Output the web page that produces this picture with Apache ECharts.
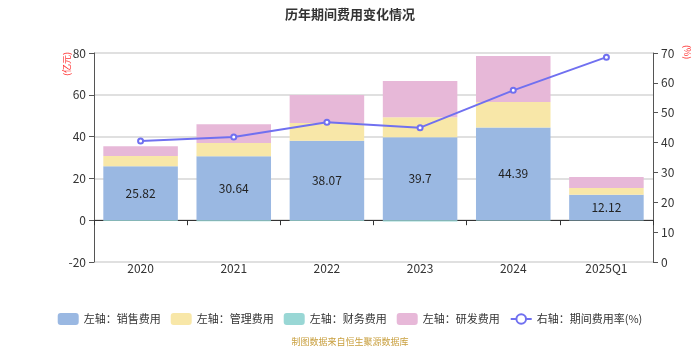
<!DOCTYPE html>
<html><head><meta charset="utf-8">
<script src="https://cdn.jsdelivr.net/npm/echarts@6/dist/echarts.min.js"></script>
<style>html,body{margin:0;padding:0;background:#fff}#c{width:700px;height:350px}</style>
</head><body><div id="c"></div>
<script>
const categories = ['2020','2021','2022','2023','2024','2025Q1'];
const sales = [25.82, 30.64, 38.07, 39.7, 44.39, 12.12];
const admin = [4.9, 6.3, 8.4, 9.5, 12.2, 3.3];
const finance = [-0.4, -0.5, -0.4, -0.6, -0.3, -0.1];
const rnd = [4.7, 9.0, 13.4, 17.4, 22.0, 5.3];
const rate = [40.5, 41.9, 46.8, 45.0, 57.5, 68.6];
const leftTicks = [-20, 0, 20, 40, 60, 80];
const rightTicks = [0, 10, 20, 30, 40, 50, 60, 70];

const chart = echarts.init(document.getElementById('c'));
const font = '"Microsoft YaHei","Noto Sans CJK SC",sans-serif';
chart.setOption({
  animation: false,
  textStyle: {fontFamily: font},
  title: {text: '历年期间费用变化情况', left: 'center', top: 3,
    textStyle: {fontSize: 13, fontWeight: 'bold', color: '#333', fontFamily: font}},
  grid: {left: 94, right: 47, top: 53, bottom: 88},
  legend: {
    bottom: 20, left: 'center', itemWidth: 21, itemHeight: 12, itemGap: 10,
    textStyle: {fontSize: 11, color: '#333'},
    data: [
      {name: '左轴：销售费用'}, {name: '左轴：管理费用'}, {name: '左轴：财务费用'},
      {name: '左轴：研发费用'}, {name: '右轴：期间费用率(%)'}
    ]
  },
  graphic: [
    {type: 'text', left: 'center', bottom: 4, style: {text: '制图数据来自恒生聚源数据库', fill: '#c9a040', fontSize: 9, fontFamily: font}},
    {type: 'text', x: 62, y: 76, rotation: Math.PI/2, style: {text: '(亿元)', fill: '#f33', fontSize: 9, fontFamily: font}},
    {type: 'text', x: 692, y: 45, rotation: -Math.PI/2, style: {text: '(%)', fill: '#f33', fontSize: 9, fontFamily: font}}
  ],
  xAxis: {
    type: 'category', data: categories,
    axisLine: {onZero: true, lineStyle: {color: '#333'}},
    axisTick: {show: true, alignWithLabel: false},
    axisLabel: {color: '#333', fontSize: 12, margin: 0},
    position: 'bottom'
  },
  yAxis: [
    {type: 'value', min: -20, max: 80, interval: 20,
      axisLine: {show: true, lineStyle: {color: '#555'}}, axisTick: {show: true},
      axisLabel: {color: '#333', fontSize: 12},
      splitLine: {lineStyle: {color: '#e0e0e0', width: 2}}},
    {type: 'value', min: 0, max: 70, interval: 10,
      axisLine: {show: true, lineStyle: {color: '#555'}}, axisTick: {show: true},
      axisLabel: {color: '#333', fontSize: 12},
      splitLine: {show: false}}
  ],
  series: [
    {name: '左轴：销售费用', type: 'bar', stack: 'a', data: sales, barWidth: '80%',
      itemStyle: {color: '#9ab8e2'},
      label: {show: true, position: 'inside', color: '#222', fontSize: 12}},
    {name: '左轴：管理费用', type: 'bar', stack: 'a', data: admin, itemStyle: {color: '#f8e7a8'}},
    {name: '左轴：财务费用', type: 'bar', stack: 'a', data: finance, itemStyle: {color: '#99d7d5'}},
    {name: '左轴：研发费用', type: 'bar', stack: 'a', data: rnd, itemStyle: {color: '#e7b8d8'}},
    {name: '右轴：期间费用率(%)', type: 'line', yAxisIndex: 1, data: rate,
      symbol: 'emptyCircle', symbolSize: 5,
      lineStyle: {color: '#7070f0', width: 2}, itemStyle: {color: '#7070f0'}}
  ]
});
</script></body></html>
